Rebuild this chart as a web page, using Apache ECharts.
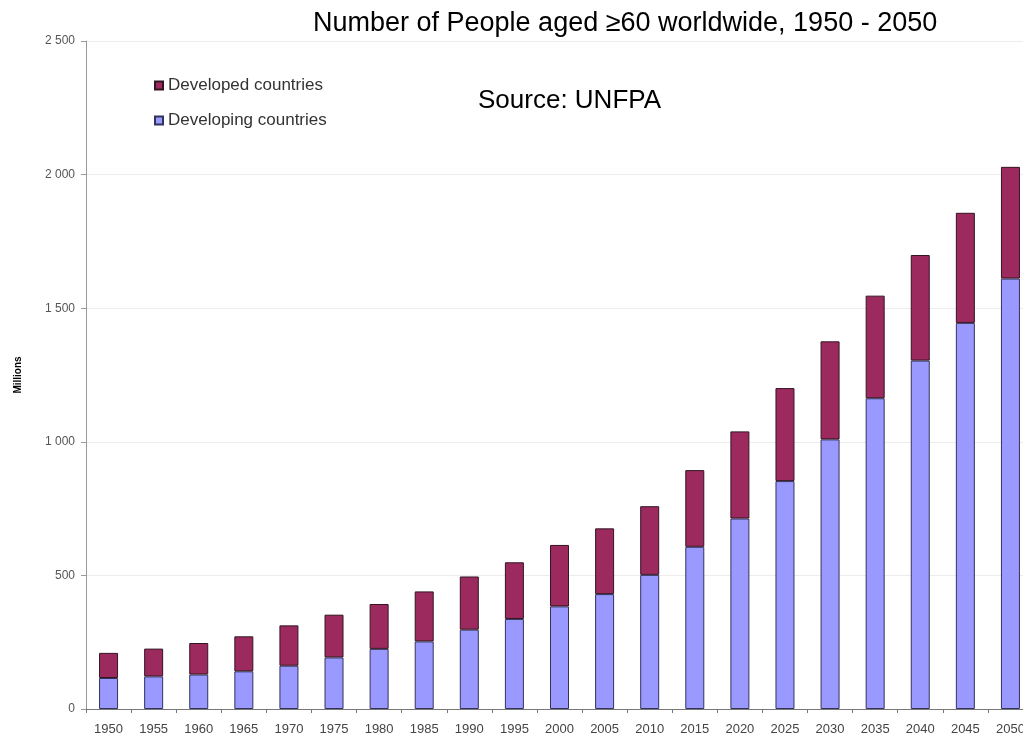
<!DOCTYPE html>
<html>
<head>
<meta charset="utf-8">
<script src="https://cdn.jsdelivr.net/npm/echarts@6/dist/echarts.min.js"></script>
<style>
html,body{margin:0;padding:0;background:#fff;}
#chart{width:1023px;height:739px;}
</style>
</head>
<body>
<div id="chart"></div>
<script>
const years = ['1950','1955','1960','1965','1970','1975','1980','1985','1990','1995','2000','2005','2010','2015','2020','2025','2030','2035','2040','2045','2050'];
const developing = [116,122,129,141,162,193,225,253,297,337,384,430,502,607,713,853,1009,1163,1304,1445,1611];
const developed  = [94,104,118,131,151,160,168,187,199,212,230,246,257,287,326,348,367,384,395,412,418];
const yTicks = [0,500,1000,1500,2000,2500];

const chart = echarts.init(document.getElementById('chart'));
chart.setOption({
  animation:false,
  backgroundColor:'#ffffff',
  title:[
    {text:'Number of People aged \u226560 worldwide, 1950 - 2050', left:308, top:5,
     textStyle:{fontFamily:'Liberation Sans, Arial, sans-serif', fontSize:27, fontWeight:'normal', color:'#000'}},
    {text:'Source: UNFPA', left:473, top:83,
     textStyle:{fontFamily:'Liberation Sans, Arial, sans-serif', fontSize:26, fontWeight:'normal', color:'#000'}}
  ],
  legend:{
    orient:'vertical', left:149, top:72,
    itemWidth:8, itemHeight:8, itemGap:18,
    data:['Developed countries','Developing countries'],
    textStyle:{fontFamily:'Liberation Sans, Arial, sans-serif', fontSize:17, color:'#333'},
    icon:'rect'
  },
  grid:{left:86, width:947, top:41, bottom:30, containLabel:false, outerBoundsMode:'none'},
  xAxis:{
    type:'category', data:years, boundaryGap:true,
    axisLine:{lineStyle:{color:'#777', width:1}},
    axisTick:{show:true, length:4, lineStyle:{color:'#777'}},
    axisLabel:{fontFamily:'Liberation Sans, Arial, sans-serif', fontSize:13, color:'#444', margin:14}
  },
  yAxis:{
    type:'value', min:yTicks[0], max:yTicks[yTicks.length-1], interval:500,
    name:'Millions', nameLocation:'middle', nameRotate:90, nameGap:63,
    nameTextStyle:{fontFamily:'Liberation Sans, Arial, sans-serif', fontSize:10, fontWeight:'bold', color:'#000'},
    axisLine:{show:true, lineStyle:{color:'#999', width:1}},
    axisTick:{show:true, length:5, lineStyle:{color:'#999'}},
    splitLine:{show:true, lineStyle:{color:'#ececec', width:1}},
    axisLabel:{fontFamily:'Liberation Sans, Arial, sans-serif', fontSize:12, color:'#555', margin:11,
      formatter:function(v){return String(v).replace(/\B(?=(\d{3})+(?!\d))/g,' ');}}
  },
  series:[
    {name:'Developing countries', type:'bar', stack:'total', data:developing, barWidth:19,
     itemStyle:{color:'#9999ff', borderColor:'#33335a', borderWidth:1}},
    {name:'Developed countries', type:'bar', stack:'total', data:developed, barWidth:19,
     itemStyle:{color:'#9c2a5f', borderColor:'#331522', borderWidth:1}}
  ]
});
</script>
</body>
</html>
